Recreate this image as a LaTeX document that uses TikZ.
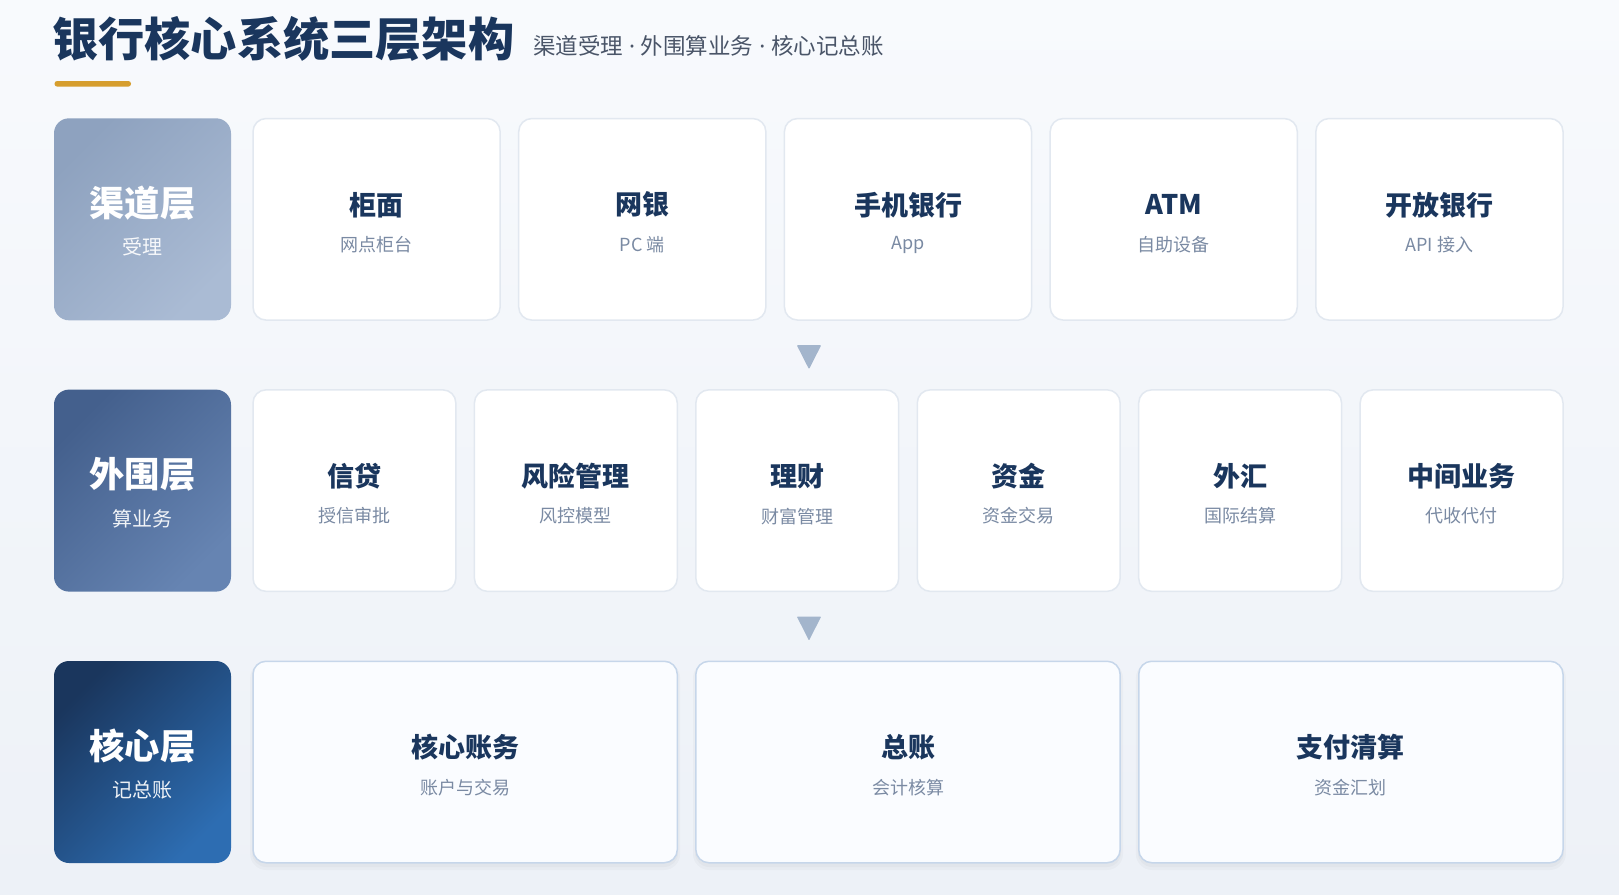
\documentclass[tikz,border=0pt]{standalone}
\usepackage{fontspec}
\setmainfont{Noto Sans CJK SC}
\newfontfamily\latinf{Noto Sans}
\usetikzlibrary{calc}
\definecolor{bgtop}{HTML}{F8FAFD}
\definecolor{bgbot}{HTML}{EDF1F7}
\definecolor{navy}{HTML}{1A365D}
\definecolor{subgray}{HTML}{4A5568}
\definecolor{cardgray}{HTML}{7A8AA3}
\definecolor{gold}{HTML}{D69E2E}
\definecolor{cardline}{HTML}{E2E8F0}
\definecolor{coreline}{HTML}{C6D6EA}
\definecolor{corefill}{HTML}{FAFCFF}
\definecolor{arrowc}{HTML}{A3B5CC}
\definecolor{la}{HTML}{8EA2BF}
\definecolor{lb}{HTML}{AABBD4}
\definecolor{ma}{HTML}{44608D}
\definecolor{mb}{HTML}{6684B2}
\definecolor{ca}{HTML}{1A365D}
\definecolor{cb}{HTML}{2D6DB2}
\newcommand\mydot{{\latinf\ ·\ }}
\tikzset{
  card/.style={draw=cardline, line width=1.5pt, fill=white, rounded corners=13pt, inner sep=0pt, minimum height=201.5},
  corecard/.style={card, draw=coreline, fill=corefill},
  labelbox/.style={rounded corners=15pt, inner sep=0pt, minimum width=177, minimum height=202},
  cardtitle/.style={font=\fontsize{27}{30}\selectfont\bfseries, text=navy, inner sep=0pt},
  cardsub/.style={font=\fontsize{18}{21}\selectfont, text=cardgray, inner sep=0pt},
  labeltitle/.style={font=\fontsize{35.3}{39}\selectfont\bfseries, text=white, inner sep=0pt},
  labelsub/.style={font=\fontsize{20}{23}\selectfont, text=white, text opacity=0.92, inner sep=0pt},
}
\begin{document}
\begin{tikzpicture}[x=1pt,y=-1pt]
\useasboundingbox (0,0) rectangle (1619,894);
\shade[top color=bgtop, bottom color=bgbot] (0,0) rectangle (1619,894);
% title
\node[anchor=west, inner sep=0pt, font=\fontsize{46.2}{51}\selectfont\bfseries, text=navy] (title) at (52,39) {银行核心系统三层架构};
\node[anchor=west, inner sep=0pt, font=\fontsize{22.5}{26}\selectfont, text=subgray] (subtitle) at (533,45.5) {渠道受理\mydot 外围算业务\mydot 核心记总账};
\fill[gold, rounded corners=2.7pt] (54.5,81) rectangle (131,86.6);
% label boxes
\node[labelbox, top color=la, bottom color=lb, shading angle=45] (L1) at (142.5,219.3) {};
\node[labelbox, top color=ma, bottom color=mb, shading angle=45] (L2) at (142.5,490.6) {};
\node[labelbox, top color=ca, bottom color=cb, shading angle=45] (L3) at (142.5,762) {};
\foreach \n/\t/\s in {L1/渠道层/受理, L2/外围层/算业务, L3/核心层/记总账} {
  \node[labeltitle] (\n t) at ([yshift=16pt]\n.center) {\t};
  \node[labelsub] (\n s) at ([yshift=-28pt]\n.center) {\s};
}
% row 1
\foreach \t/\s [count=\i from 0] in {柜面/网点柜台, 网银/PC 端, 手机银行/App, ATM/自助设备, 开放银行/API 接入} {
  \pgfmathsetmacro\cx{253+\i*(247.12+18.6)+247.12/2}
  \node[card, minimum width=247.12] (a\i) at (\cx,219.3) {};
  \node[cardtitle] (a\i t) at ([yshift=14.5pt]a\i.center) {\t};
  \node[cardsub] (a\i s) at ([yshift=-25.5pt]a\i.center) {\s};
}
% row 2
\foreach \t/\s [count=\i from 0] in {信贷/授信审批, 风险管理/风控模型, 理财/财富管理, 资金/资金交易, 外汇/国际结算, 中间业务/代收代付} {
  \pgfmathsetmacro\cx{253+\i*(202.83+18.6)+202.83/2}
  \node[card, minimum width=202.83] (b\i) at (\cx,490.6) {};
  \node[cardtitle] (b\i t) at ([yshift=14.5pt]b\i.center) {\t};
  \node[cardsub] (b\i s) at ([yshift=-25.5pt]b\i.center) {\s};
}
% row 3
\foreach \t/\s [count=\i from 0] in {核心账务/账户与交易, 总账/会计核算, 支付清算/资金汇划} {
  \pgfmathsetmacro\cx{253+\i*(424.27+18.6)+424.27/2}
  \fill[black, opacity=0.025, rounded corners=16pt] (\cx-215,662) rectangle (\cx+215,870);
  \fill[black, opacity=0.025, rounded corners=14pt] (\cx-213,662) rectangle (\cx+213,867);
  \node[corecard, minimum width=424.27] (c\i) at (\cx,762) {};
  \node[cardtitle] (c\i t) at ([yshift=14.5pt]c\i.center) {\t};
  \node[cardsub] (c\i s) at ([yshift=-25.5pt]c\i.center) {\s};
}
% arrows
\coordinate (ar1) at (809,357.2);
\coordinate (ar2) at (809,628.5);
\foreach \a in {ar1, ar2} {
  \fill[arrowc, rounded corners=0.8pt] ($(\a)+(-12.2,-12)$) -- ($(\a)+(12.2,-12)$) -- ($(\a)+(0,12)$) -- cycle;
}
\end{tikzpicture}
\end{document}
